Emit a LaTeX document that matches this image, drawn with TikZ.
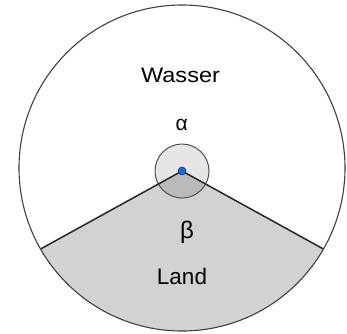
\documentclass[tikz,border=0pt]{standalone}
\usepackage{fontspec}
\setmainfont{Liberation Sans}
\usetikzlibrary{calc}
\definecolor{landgray}{HTML}{D2D2D2}
\definecolor{alphagray}{HTML}{E6E6E6}
\definecolor{betagray}{HTML}{BABABA}
\definecolor{ringgray}{HTML}{505050}
\definecolor{dotblue}{HTML}{2266CC}
\definecolor{dotedge}{HTML}{123A80}
\tikzset{
  lbl/.style={anchor=base, inner sep=0pt, text=black},
  edge/.style={draw=black!85, line width=1.5pt},
}
\begin{document}
\begin{tikzpicture}[x=1pt,y=1pt]
\useasboundingbox (0,0) rectangle (347,333);
\coordinate (C) at (182,165);
\coordinate (P) at (182,162);
\coordinate (L) at ($(C)+(209.8:163)$);
\coordinate (R) at ($(C)+(-29.8:163)$);
% land
\fill[landgray] (P) -- (L) arc[start angle=209.8, end angle=330.2, radius=163] -- cycle;
% alpha small circle
\fill[alphagray] (P) circle[radius=27];
% beta sector
\fill[betagray] (P) -- ++(208.9:27) arc[start angle=208.9, end angle=331.1, radius=27] -- cycle;
\draw[ringgray, line width=1pt] (P) circle[radius=27];
% lines
\draw[edge] (L) -- (P) -- (R);
% big circle
\draw[black!75, line width=1.1pt] (C) circle[radius=163];
% dot
\node[circle, fill=dotblue, draw=dotedge, line width=0.6pt, minimum size=8pt, inner sep=0pt] (pt) at (P) {};
% labels
\node[lbl] (wasser) at (180.5,251) {\fontsize{21}{25}\selectfont\scalebox{1.12}[1]{Wasser}};
\node[lbl] (land) at (182,48.7) {\fontsize{22.5}{27}\selectfont Land};
\node[lbl] (alpha) at (181.7,202.3) {\fontsize{21}{25}\selectfont α};
\node[lbl] (beta) at (187,95) {\fontsize{24}{28}\selectfont β};
\end{tikzpicture}
\end{document}
